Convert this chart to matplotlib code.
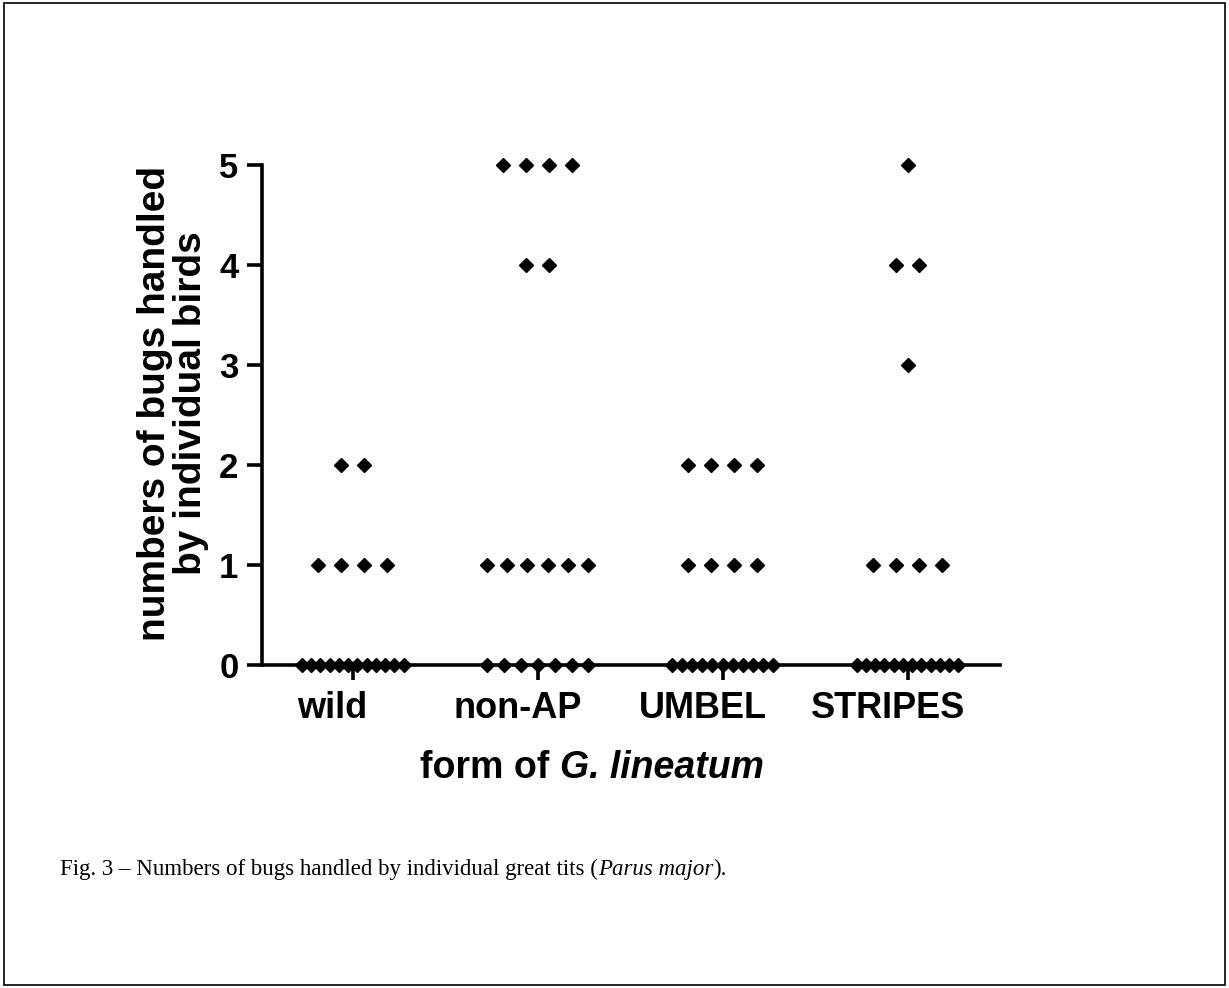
import matplotlib
matplotlib.use("Agg")
import matplotlib.pyplot as plt
import matplotlib.transforms as mtransforms
from matplotlib.patches import Rectangle
import numpy as np

plt.rcParams['font.family'] = ['Liberation Sans', 'DejaVu Sans']

# data: bugs handled per bird, one entry per bird
categories = ['wild', 'non-AP', 'UMBEL', 'STRIPES']
wild = [0, 0, 0, 0, 0, 0, 0, 0, 0, 0, 0, 0, 1, 1, 1, 1, 2, 2]
non_ap = [0, 0, 0, 0, 0, 0, 0, 1, 1, 1, 1, 1, 1, 4, 4, 5, 5, 5, 5]
umbel = [0, 0, 0, 0, 0, 0, 0, 0, 0, 0, 0, 1, 1, 1, 1, 2, 2, 2, 2]
stripes = [0, 0, 0, 0, 0, 0, 0, 0, 0, 0, 0, 0, 1, 1, 1, 1, 3, 4, 4, 5]
groups = [wild, non_ap, umbel, stripes]

fig = plt.figure(figsize=(12.29, 9.88), dpi=100)
ax = fig.add_axes([0.2132, 0.3269, 0.6005, 0.5061])

# scatter, points of equal value spread side by side
for i, vals in enumerate(groups):
    vals = np.array(vals)
    for v in np.unique(vals):
        n = np.sum(vals == v)
        step = 0.125 if n < 2 else min(0.125, 0.55 / (n - 1))
        xs = i + (np.arange(n) - (n - 1) / 2) * step
        ax.plot(xs, np.full(n, v), 'D', color='black', ms=7.5,
                clip_on=False, zorder=5)

ax.set_xlim(-0.49, 3.5)
ax.set_ylim(0, 5)
ax.spines['top'].set_visible(False)
ax.spines['right'].set_visible(False)
for s in ['left', 'bottom']:
    ax.spines[s].set_linewidth(2.6)

ax.set_yticks(range(6))
ax.set_yticklabels([str(k) for k in range(6)], fontsize=25, fontweight='bold')
ax.set_xticks(range(len(categories)))
ax.set_xticklabels(categories, fontsize=26, fontweight='bold')
ax.tick_params(axis='both', width=2.6, length=11, direction='out')
ax.tick_params(axis='y', pad=6)
ax.tick_params(axis='x', pad=8)
shift = mtransforms.ScaledTranslation(-0.2, 0, fig.dpi_scale_trans)
for lab in ax.get_xticklabels():
    lab.set_transform(lab.get_transform() + shift)

fig.text(0.141, 0.592, 'numbers of bugs handled\nby individual birds',
         fontsize=28, fontweight='bold', rotation=90, ha='center',
         va='center', multialignment='center', linespacing=1.0)

# x label (bold, genus name in bold italic) and caption, chained pieces
xa = fig.text(0, 0.2227, 'form of ', fontsize=27, fontweight='bold', va='center')
xb = fig.text(0, 0.2227, 'G. lineatum', fontsize=27, fontweight='bold',
              style='italic', va='center')

t1 = fig.text(0.0488, 0.109, 'Fig. 3 \u2013 Numbers of bugs handled by individual great tits (',
              fontsize=16.5, family='Liberation Serif', va='bottom')
t2 = fig.text(0, 0, 'Parus major', fontsize=16.5, family='Liberation Serif',
              style='italic', va='bottom')
t3 = fig.text(0, 0, ').', fontsize=16.5, family='Liberation Serif', va='bottom')

fig.canvas.draw()
r = fig.canvas.get_renderer()
inv = fig.transFigure.inverted()
W = fig.get_figwidth() * fig.dpi
wa = xa.get_window_extent(r).width
wb = xb.get_window_extent(r).width
x0 = 592 - (wa + wb) / 2
xa.set_x(x0 / W)
xb.set_x((x0 + wa) / W)

b1 = t1.get_window_extent(r)
t2.set_position(inv.transform((b1.x1, b1.y0)))
fig.canvas.draw()
b2 = t2.get_window_extent(r)
t3.set_position(inv.transform((b2.x1, b1.y0)))

fig.patches.append(Rectangle((0.003, 0.003), 0.994, 0.994, transform=fig.transFigure,
                             fill=False, lw=1.2, color='black'))

fig.savefig('out.png', dpi=100)
